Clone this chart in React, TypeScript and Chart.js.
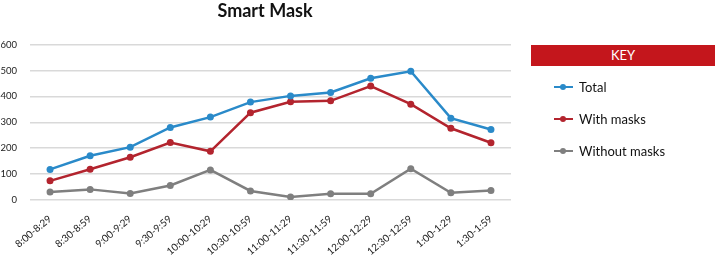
import React, { useEffect, useRef } from "react";
import { Chart, registerables } from "chart.js";

Chart.register(...registerables);

const categories = [
  "8:00-8:29", "8:30-8:59", "9:00-9:29", "9:30-9:59", "10:00-10:29", "10:30-10:59",
  "11:00-11:29", "11:30-11:59", "12:00-12:29", "12:30-12:59", "1:00-1:29", "1:30-1:59",
];
const totalValues = [118, 171, 204, 280, 320, 378, 402, 415, 470, 497, 316, 272];
const withMaskValues = [74, 119, 165, 222, 188, 337, 379, 383, 440, 370, 277, 221];
const withoutMaskValues = [31, 41, 25, 56, 116, 35, 12, 24, 24, 121, 28, 37];
const yTicks = [0, 100, 200, 300, 400, 500, 600];

const seriesNames = ["Total", "With masks", "Without masks"];
const seriesColors = ["#2a8ac9", "#b3242e", "#7f7f7f"];

const FONT = "Lato, 'Noto Sans', sans-serif";

export default function App() {
  const ref = useRef<HTMLCanvasElement | null>(null);
  useEffect(() => {
    if (!ref.current) return;
    const series = [totalValues, withMaskValues, withoutMaskValues];
    const chart = new Chart(ref.current, {
      type: "line",
      data: {
        labels: categories,
        datasets: series.map((vals, i) => ({
          label: seriesNames[i],
          data: vals,
          borderColor: seriesColors[i],
          backgroundColor: seriesColors[i],
          borderWidth: 2.5,
          pointRadius: 3.5,
          pointBorderWidth: 0,
          tension: 0,
        })),
      },
      options: {
        animation: false,
        responsive: false,
        layout: { padding: 0 },
        plugins: {
          legend: { display: false },
          tooltip: { enabled: false },
          title: {
            display: true,
            text: "Smart Mask",
            color: "#111",
            font: { family: FONT, size: 18, weight: "bold" },
            padding: { top: 0, bottom: 23 },
          },
        },
        scales: {
          x: {
            offset: true,
            grid: { display: false, drawTicks: false },
            border: { display: false },
            afterFit: (s: any) => {
              s.height = 59;
              s.paddingLeft = 0;
              s.paddingRight = 19;
            },
            ticks: {
              autoSkip: false,
              maxRotation: 40,
              minRotation: 40,
              padding: 13,
              color: "#222",
              font: { family: FONT, size: 10 },
            },
          },
          y: {
            min: 0,
            max: 600,
            afterBuildTicks: (axis: any) => {
              axis.ticks = yTicks.map((v) => ({ value: v }));
            },
            afterFit: (s: any) => {
              s.width = 30;
            },
            grid: { color: "#d9d9d9", lineWidth: 1.5, drawTicks: false },
            border: { display: false },
            ticks: {
              padding: 13,
              color: "#222",
              font: { family: FONT, size: 9.5 },
            },
          },
        },
      },
    });
    return () => chart.destroy();
  }, []);

  return (
    <div style={{ position: "fixed", left: 0, top: 0, width: 716, height: 259, fontFamily: FONT }}>
      <canvas ref={ref} width={530} height={259} style={{ position: "absolute", left: 0, top: 0 }} />
      <div
        style={{
          position: "absolute",
          left: 531,
          top: 45,
          width: 184,
          height: 21,
          background: "#c4161c",
          color: "#fff",
          fontSize: 13,
          lineHeight: "21px",
          textAlign: "center",
        }}
      >
        KEY
      </div>
      {seriesNames.map((name, i) => (
        <div
          key={name}
          style={{
            position: "absolute",
            left: 554,
            top: 78 + i * 32,
            height: 18,
            display: "flex",
            alignItems: "center",
            fontSize: 13,
            color: "#111",
          }}
        >
          <span style={{ position: "relative", width: 19, height: 18, marginRight: 6 }}>
            <span style={{ position: "absolute", left: 0, top: 8, width: 19, height: 2, background: seriesColors[i] }} />
            <span
              style={{ position: "absolute", left: 6, top: 6, width: 6, height: 6, borderRadius: 3, background: seriesColors[i] }}
            />
          </span>
          {name}
        </div>
      ))}
    </div>
  );
}
